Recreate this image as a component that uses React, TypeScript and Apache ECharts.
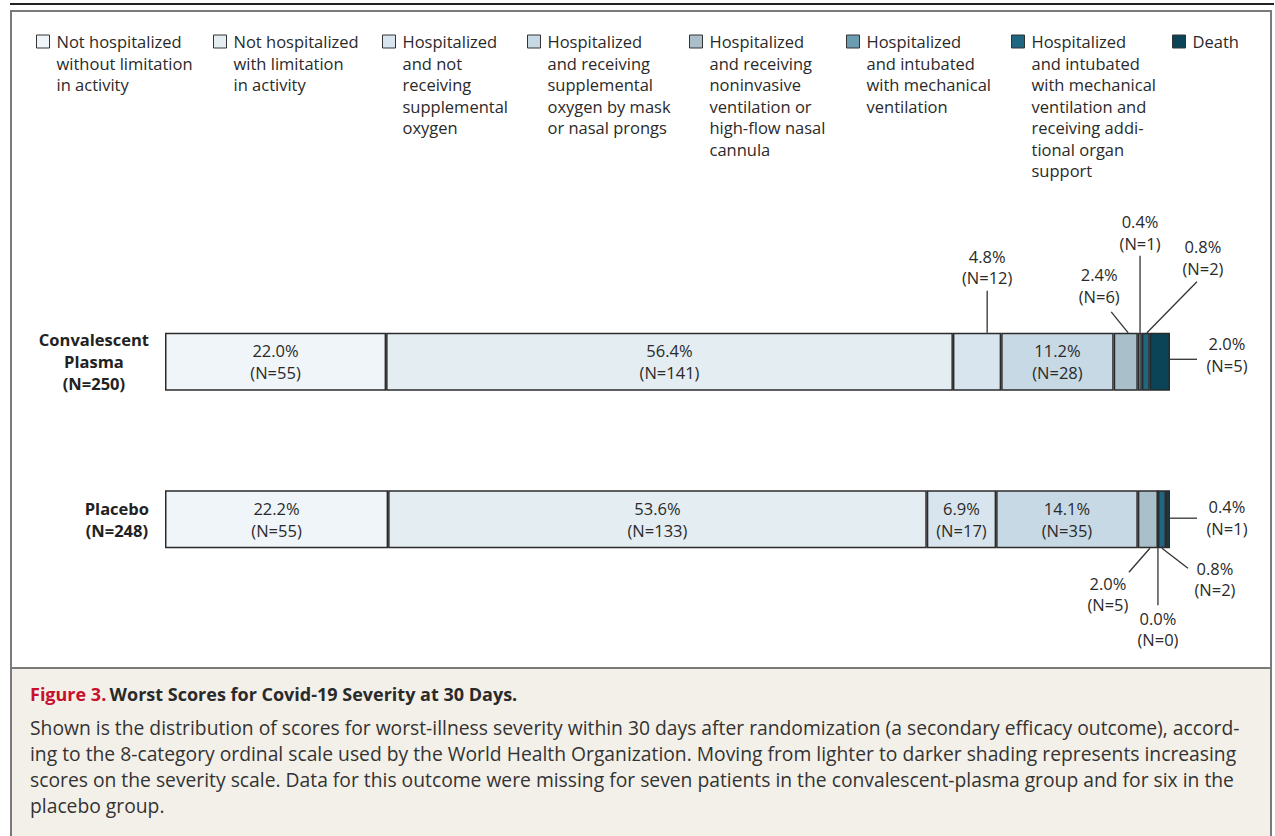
import React, { useEffect, useRef } from "react";
import * as echarts from "echarts";

// ---------------- data ----------------
const groups = ["Convalescent\nPlasma\n(N=250)", "Placebo\n(N=248)"];

const categories = [
  "Not hospitalized\nwithout limitation\nin activity",
  "Not hospitalized\nwith limitation\nin activity",
  "Hospitalized\nand not\nreceiving\nsupplemental\noxygen",
  "Hospitalized\nand receiving\nsupplemental\noxygen by mask\nor nasal prongs",
  "Hospitalized\nand receiving\nnoninvasive\nventilation or\nhigh-flow nasal\ncannula",
  "Hospitalized\nand intubated\nwith mechanical\nventilation",
  "Hospitalized\nand intubated\nwith mechanical\nventilation and\nreceiving addi-\ntional organ\nsupport",
  "Death",
];

const plasmaPct = [22.0, 56.4, 4.8, 11.2, 2.4, 0.4, 0.8, 2.0];
const plasmaN = [55, 141, 12, 28, 6, 1, 2, 5];
const placeboPct = [22.2, 53.6, 6.9, 14.1, 2.0, 0.0, 0.8, 0.4];
const placeboN = [55, 133, 17, 35, 5, 0, 2, 1];

const captionTitleRed = "Figure 3.";
const captionTitle = "Worst Scores for Covid-19 Severity at 30 Days.";
const captionLines = [
  "Shown is the distribution of scores for worst-illness severity within 30 days after randomization (a secondary efficacy outcome), accord-",
  "ing to the 8-category ordinal scale used by the World Health Organization. Moving from lighter to darker shading represents increasing",
  "scores on the severity scale. Data for this outcome were missing for seven patients in the convalescent-plasma group and for six in the",
  "placebo group.",
];

// ---------------- styles / layout ----------------
const colors = [
  "#f0f5f9",
  "#e4edf2",
  "#d8e5ee",
  "#c7d9e4",
  "#a9c0cb",
  "#6b9cb0",
  "#1f6781",
  "#0b4456",
];

const FONT = "'Open Sans', 'Noto Sans', sans-serif";
const TEXT = "#2a2a2a";
const LABEL_SIZE = 16.5;
const LEGEND_LH = 21.5;
const legendLeft = [36, 213, 382, 527, 689, 846, 1011, 1172];
const legendIconCenterY = 41.5;

const valuesByRow = [plasmaPct, placeboPct];
const countsByRow = [plasmaN, placeboN];

// outside labels with leader lines (layout only)
const outsideLabels = [
  { row: 0, seg: 2, side: "top", frac: 0.71, ay: 0, lx: 0, ly: -42, tx: 0, ty: -2.5, va: "bottom" },
  { row: 0, seg: 4, side: "top", frac: 0.6, ay: 0, lx: -17, ly: -21, tx: -12, ty: -5, va: "bottom" },
  { row: 0, seg: 5, side: "top", frac: 0.55, ay: 0, lx: 0, ly: -77, tx: 0, ty: -2, va: "bottom" },
  { row: 0, seg: 6, side: "top", frac: 0.63, ay: 0, lx: 50, ly: -51, tx: 6, ty: -3, va: "bottom" },
  { row: 0, seg: 7, side: "right", frac: 0, ay: -2.5, lx: 27, ly: 0, tx: 30, ty: -5, va: "middle" },
  { row: 1, seg: 4, side: "bottom", frac: 0.6, ay: 0, lx: -21, ly: 24, tx: -21, ty: 0.5, va: "top" },
  { row: 1, seg: 5, side: "bottom", frac: 0, ay: 0, lx: 0, ly: 57, tx: 0, ty: 2.5, va: "top" },
  { row: 1, seg: 6, side: "bottom", frac: 0.5, ay: 0, lx: 26, ly: 20, tx: 27, ty: -10.5, va: "top" },
  { row: 1, seg: 7, side: "right", frac: 0, ay: -1, lx: 27, ly: 0, tx: 30, ty: -0.5, va: "middle" },
];

const BAR_W = 58;
const GRID_TOP = 283.1;
const GRID_H = 314.8;

const fmtLabel = (row: number, seg: number) =>
  `${valuesByRow[row][seg].toFixed(1)}%\n(N=${countsByRow[row][seg]})`;

const isOutside = (row: number, seg: number) =>
  outsideLabels.some((o) => o.row === row && o.seg === seg);

function buildOption(): any {
  const barSeries = categories.map((name, i) => ({
    type: "bar",
    name,
    stack: "all",
    barWidth: BAR_W,
    silent: true,
    data: [0, 1].map((r) => ({
      value: valuesByRow[r][i],
      label: { show: !isOutside(r, i) },
    })),
    itemStyle: { color: colors[i], borderColor: "#2b2b2b", borderWidth: 1.5 },
    label: {
      show: true,
      position: "inside",
      formatter: (p: any) => fmtLabel(p.dataIndex, i),
      fontFamily: FONT,
      fontSize: LABEL_SIZE,
      color: TEXT,
      lineHeight: 22,
    },
  }));

  const customSeries = {
    type: "custom",
    coordinateSystem: "cartesian2d",
    silent: true,
    z: 5,
    data: outsideLabels.map((o) => {
      const vals = valuesByRow[o.row];
      let end = 0;
      for (let k = 0; k <= o.seg; k++) end += vals[k];
      return [end, o.row];
    }),
    encode: { x: 0, y: 1 },
    renderItem: (params: any, api: any) => {
      const o = outsideLabels[params.dataIndex];
      const vals = valuesByRow[o.row];
      let start = 0;
      for (let k = 0; k < o.seg; k++) start += vals[k];
      const end = start + vals[o.seg];
      const p0 = api.coord([start, o.row]);
      const p1 = api.coord([end, o.row]);
      const half = BAR_W / 2;
      let ax = 0;
      let ay = 0;
      if (o.side === "top") {
        ax = p0[0] + o.frac * (p1[0] - p0[0]);
        ay = p0[1] - half;
      } else if (o.side === "bottom") {
        ax = p0[0] + o.frac * (p1[0] - p0[0]);
        ay = p0[1] + half;
      } else {
        ax = p1[0];
        ay = p0[1] + o.ay;
      }
      const ex = ax + o.lx;
      const ey = ay + o.ly;
      return {
        type: "group",
        children: [
          {
            type: "line",
            shape: { x1: ax, y1: ay, x2: ex, y2: ey },
            style: { stroke: "#333", lineWidth: 1.3 },
          },
          {
            type: "text",
            x: ex + o.tx,
            y: ey + o.ty,
            style: {
              text: fmtLabel(o.row, o.seg),
              align: "center",
              verticalAlign: o.va,
              fill: TEXT,
              font: `${LABEL_SIZE}px ${FONT}`,
              lineHeight: 21.5,
            },
          },
        ],
      };
    },
  };

  const legends = categories.map((name, i) => {
    const n = name.split("\n").length;
    return {
      data: [name],
      left: legendLeft[i],
      top: legendIconCenterY - ((2 * n - 1) * LEGEND_LH) / 2,
      padding: 0,
      itemGap: 0,
      icon: "rect",
      itemWidth: 13,
      itemHeight: 13,
      selectedMode: false,
      formatter: (nm: string) => "\n".repeat(n - 1) + nm,
      itemStyle: { borderColor: "#333", borderWidth: 1 },
      textStyle: {
        fontFamily: FONT,
        fontSize: LABEL_SIZE,
        color: TEXT,
        lineHeight: LEGEND_LH,
        padding: [0, 0, 0, 2],
      },
    };
  });

  const graphics: any[] = [
    {
      type: "line",
      shape: { x1: 10, y1: 4, x2: 1274, y2: 4 },
      style: { stroke: "#222", lineWidth: 2 },
      z: -10,
    },
    {
      type: "rect",
      shape: { x: 11, y: 11, width: 1260, height: 900 },
      style: { fill: "#fff", stroke: "#7a7a7a", lineWidth: 2 },
      z: -10,
    },
    {
      type: "rect",
      shape: { x: 11, y: 668, width: 1260, height: 300 },
      style: { fill: "#f3f0e9", stroke: "#7a7a7a", lineWidth: 2 },
      z: -9,
    },
    {
      type: "text",
      x: 30,
      y: 694,
      style: {
        text: `{r|${captionTitleRed}} {b|${captionTitle}}`,
        verticalAlign: "middle",
        rich: {
          r: { fontFamily: FONT, fontSize: 18, fontWeight: "bold", fill: "#c8102e" },
          b: { fontFamily: FONT, fontSize: 18, fontWeight: "bold", fill: "#2a2a2a" },
        },
      },
      z: -8,
    },
    ...captionLines.map((line, k) => ({
      type: "text",
      x: 30,
      y: 727 + k * 26.2,
      style: {
        text: line,
        verticalAlign: "middle",
        fontFamily: FONT,
        fontSize: 19.3,
        fill: "#333",
      },
      z: -8,
    })),
  ];

  return {
    animation: false,
    backgroundColor: "#ffffff",
    graphic: { elements: graphics },
    legend: legends,
    grid: { left: 165, right: 105, top: GRID_TOP, height: GRID_H, containLabel: false },
    xAxis: {
      type: "value",
      min: 0,
      max: 100,
      show: false,
    },
    yAxis: {
      type: "category",
      data: groups,
      inverse: true,
      axisLine: { show: false },
      axisTick: { show: false },
      splitLine: { show: false },
      axisLabel: {
        margin: 16,
        formatter: (v: string) =>
          v
            .split("\n")
            .map((l) => `{c|${l}}`)
            .join("\n"),
        rich: {
          c: {
            align: "center",
            fontFamily: FONT,
            fontSize: 16.5,
            fontWeight: "bold",
            color: "#222",
            lineHeight: 22,
          },
        },
      },
    },
    series: [...barSeries, customSeries],
  };
}

export default function App() {
  const ref = useRef<HTMLDivElement>(null);
  useEffect(() => {
    if (!ref.current) return;
    const chart = echarts.init(ref.current, null, { renderer: "svg" });
    chart.setOption(buildOption());
    return () => chart.dispose();
  }, []);
  return (
    <div
      ref={ref}
      style={{ position: "absolute", left: 0, top: 0, width: 1275, height: 836 }}
    />
  );
}
